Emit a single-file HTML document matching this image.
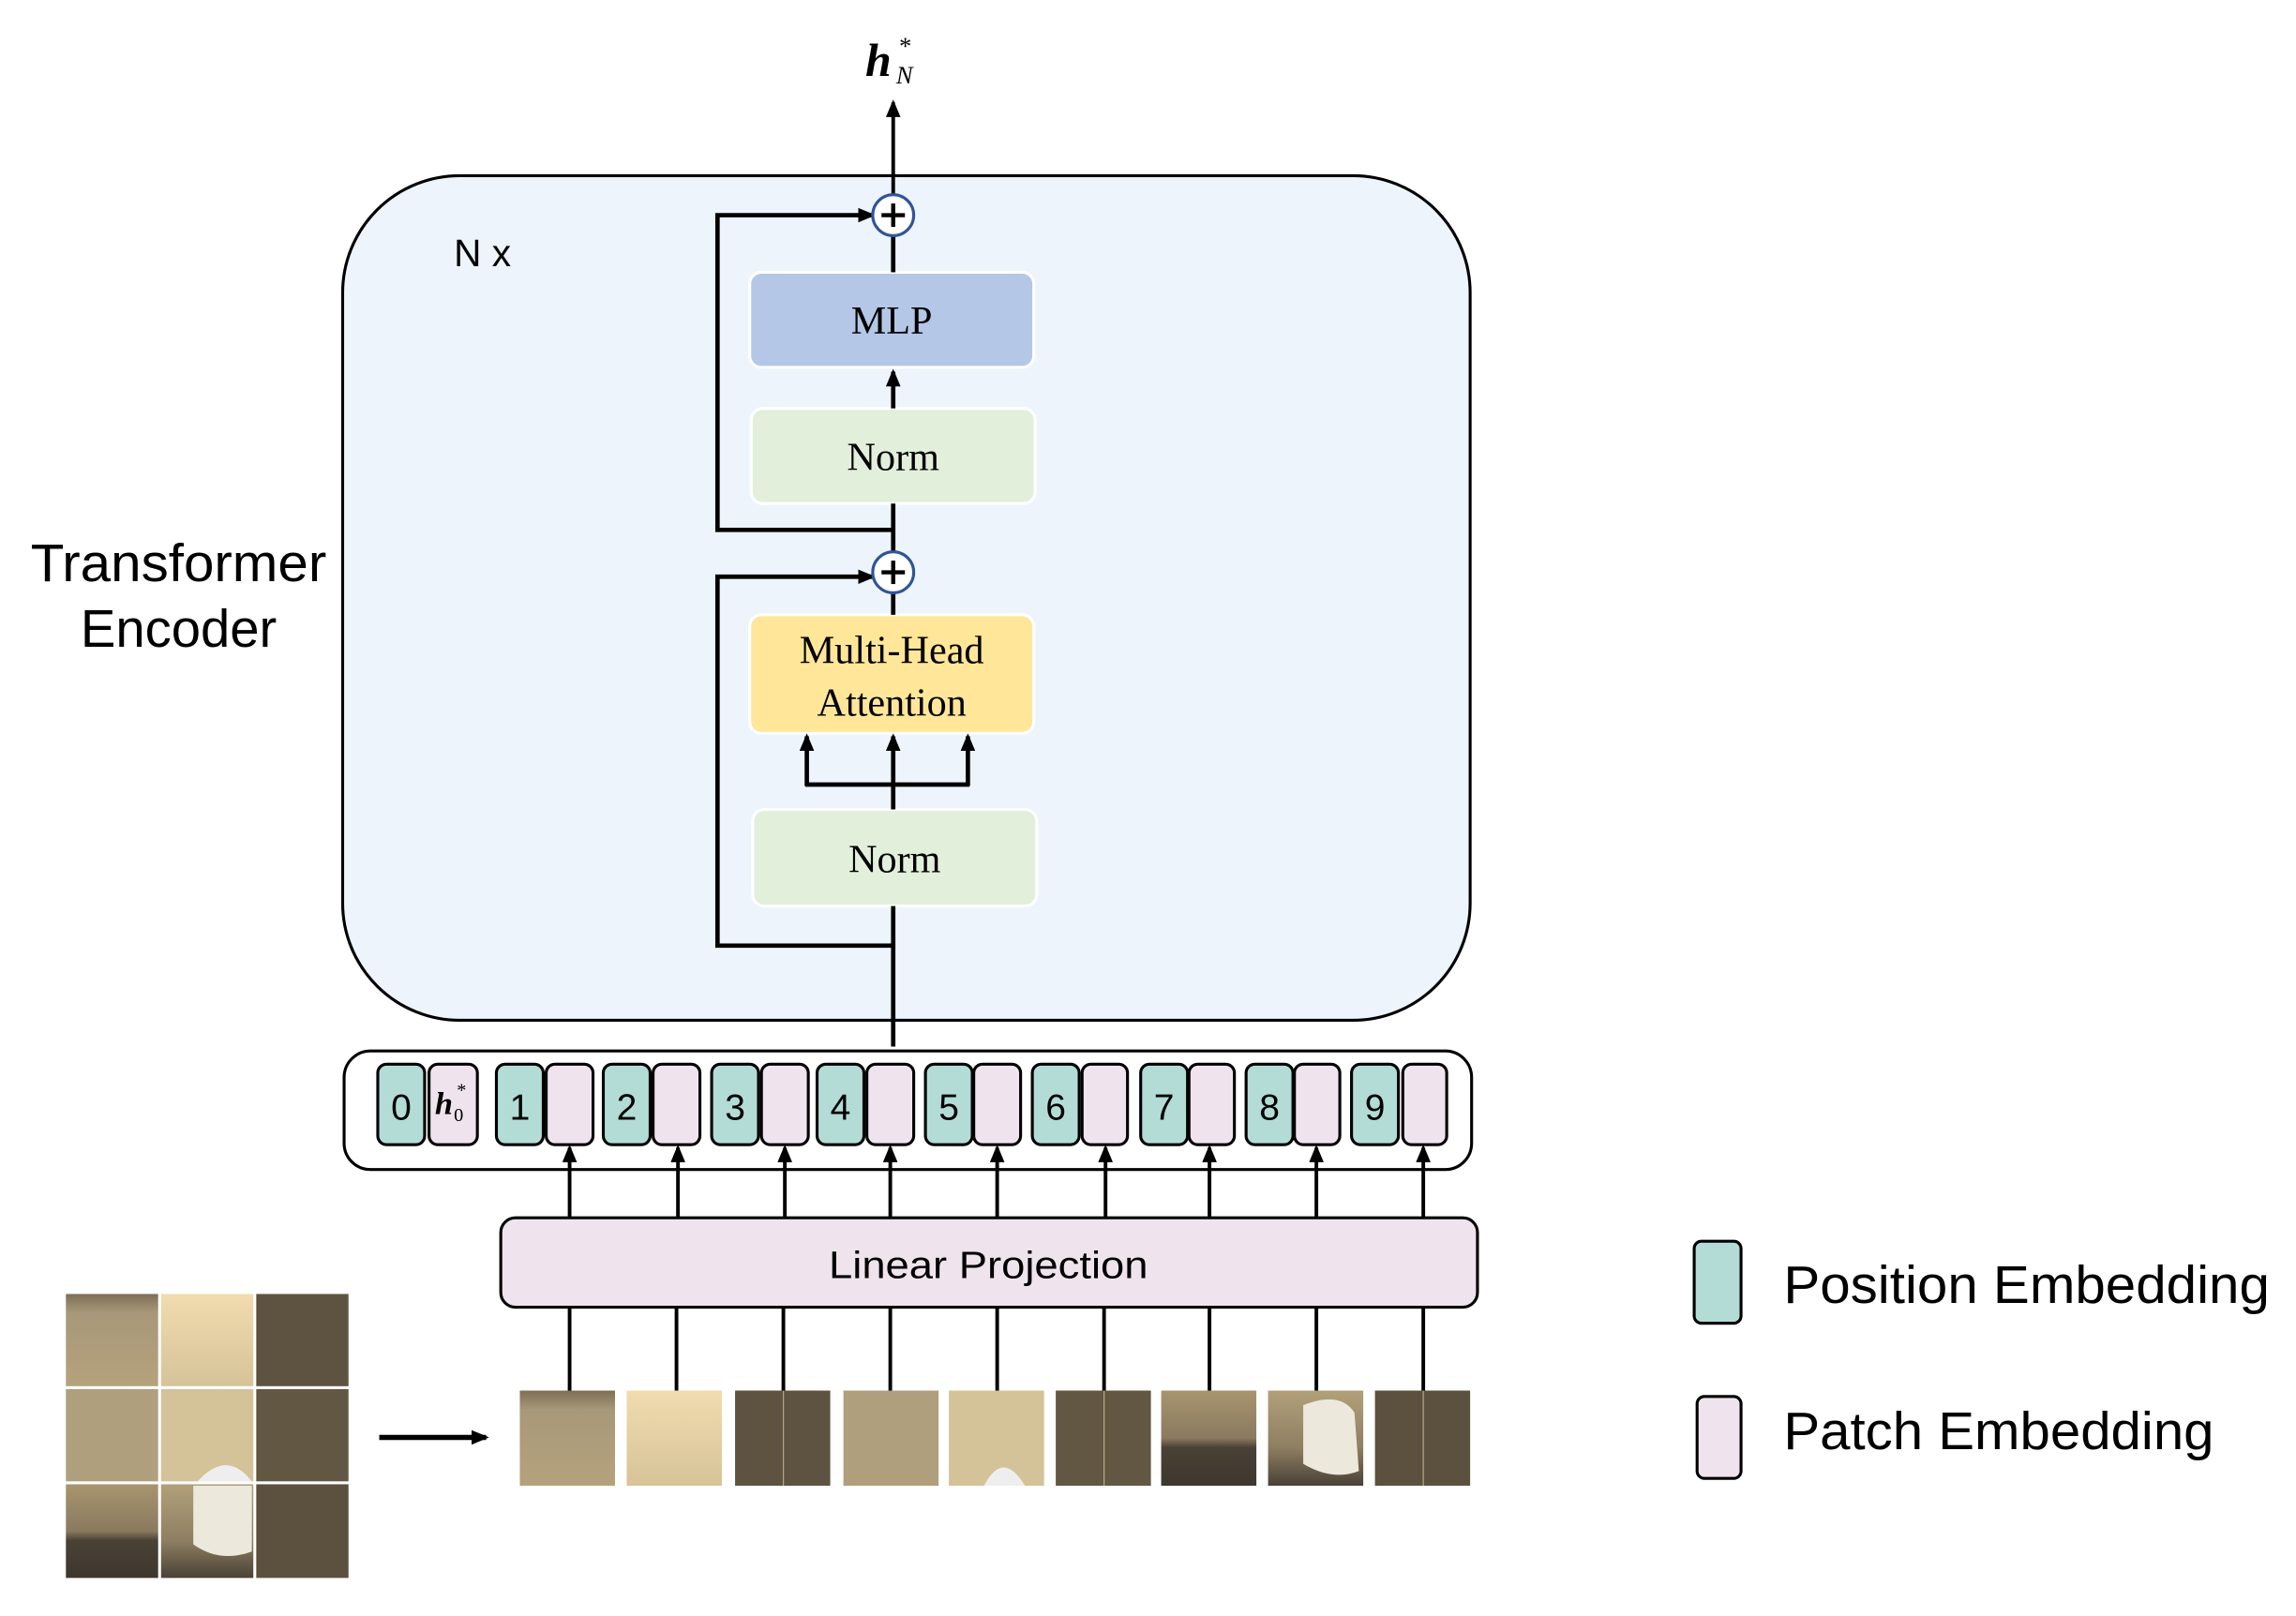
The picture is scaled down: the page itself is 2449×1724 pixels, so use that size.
<!DOCTYPE html>
<html><head><meta charset="utf-8"><style>
html,body{margin:0;padding:0;background:#fff;}
svg{display:block;}
text{font-family:"Liberation Sans",sans-serif;}
.serif{font-family:"Liberation Serif",serif;}
</style></head><body>
<svg width="2449" height="1724" viewBox="0 0 1568 1104" preserveAspectRatio="none" xmlns="http://www.w3.org/2000/svg">
<defs>
<marker id="ah" markerWidth="12" markerHeight="10" refX="10" refY="5" orient="auto" markerUnits="userSpaceOnUse"><path d="M0,0 L12,5 L0,10 z" fill="#000"/></marker>
</defs>
<!-- Encoder box -->
<rect x="234" y="120" width="770" height="577" rx="80" fill="#edf4fb" stroke="#000" stroke-width="2"/>
<text x="310" y="182" font-size="26">N x</text>
<text x="122" y="397" font-size="36" text-anchor="middle" textLength="202" lengthAdjust="spacingAndGlyphs">Transformer</text>
<text x="122" y="442" font-size="36" text-anchor="middle">Encoder</text>

<!-- output -->
<line x1="610" y1="133" x2="610" y2="70" stroke="#000" stroke-width="2.5" marker-end="url(#ah)"/>
<text x="591" y="52" font-size="32" font-weight="bold" font-style="italic" class="serif">h</text>
<text x="612" y="57" font-size="17" font-style="italic" class="serif">N</text>
<text x="614" y="37" font-size="17" class="serif">*</text>

<!-- boxes -->
<rect x="512" y="186" width="194" height="65" rx="8" fill="#b4c7e7" stroke="#fff" stroke-width="2"/>
<text x="609" y="228" font-size="27" text-anchor="middle" class="serif">MLP</text>
<rect x="513" y="279" width="194" height="65" rx="8" fill="#e2efda" stroke="#fff" stroke-width="2"/>
<text x="610" y="321" font-size="27" text-anchor="middle" class="serif">Norm</text>
<rect x="512" y="420" width="194" height="81" rx="8" fill="#ffe699" stroke="#fff" stroke-width="2"/>
<text x="609" y="453" font-size="27" text-anchor="middle" class="serif">Multi-Head</text>
<text x="609" y="489" font-size="27" text-anchor="middle" class="serif">Attention</text>
<rect x="514" y="553" width="194" height="66" rx="8" fill="#e2efda" stroke="#fff" stroke-width="2"/>
<text x="611" y="596" font-size="27" text-anchor="middle" class="serif">Norm</text>

<!-- connectors -->
<g stroke="#000" stroke-width="3" fill="none">
<line x1="610" y1="186" x2="610" y2="161"/>
<line x1="610" y1="279" x2="610" y2="254" marker-end="url(#ah)"/>
<line x1="610" y1="344" x2="610" y2="377"/>
<line x1="610" y1="420" x2="610" y2="405"/>
<polyline points="610,362 490,362 490,147 596,147" marker-end="url(#ah)"/>
<polyline points="610,646 490,646 490,394 596,394" marker-end="url(#ah)"/>
<line x1="610" y1="715" x2="610" y2="619"/>
<line x1="610" y1="553" x2="610" y2="503" marker-end="url(#ah)"/>
<polyline points="550,536 662,536"/>
<line x1="551" y1="537" x2="551" y2="503" marker-end="url(#ah)"/>
<line x1="661" y1="537" x2="661" y2="503" marker-end="url(#ah)"/>
</g>
<g stroke="#2f5597" stroke-width="2" fill="#fff">
<circle cx="610" cy="147" r="14"/>
<circle cx="610" cy="391" r="14"/>
</g>
<g stroke="#000" stroke-width="2.8">
<line x1="602" y1="147" x2="618" y2="147"/><line x1="610" y1="139" x2="610" y2="155"/>
<line x1="602" y1="391" x2="618" y2="391"/><line x1="610" y1="383" x2="610" y2="399"/>
</g>

<!-- token box -->
<rect x="235" y="718" width="770" height="81" rx="18" fill="#fff" stroke="#000" stroke-width="2"/>
<g stroke="#000" stroke-width="2">
<rect x="258" y="727" width="32" height="55" rx="6" fill="#b3dcd6"/>
<rect x="293" y="727" width="33" height="55" rx="6" fill="#efe4ee"/>
</g>
<text x="274" y="765" font-size="25" text-anchor="middle">0</text>
<text x="297" y="761" font-size="22" font-weight="bold" font-style="italic" class="serif">h</text>
<text x="310" y="766" font-size="13" class="serif">0</text>
<text x="312" y="749" font-size="13" class="serif">*</text>
<g stroke="#000" stroke-width="2">
<rect x="339" y="727" width="32" height="55" rx="6" fill="#b3dcd6"/><rect x="373" y="727" width="32" height="55" rx="6" fill="#efe4ee"/>
<rect x="412" y="727" width="32" height="55" rx="6" fill="#b3dcd6"/><rect x="446" y="727" width="32" height="55" rx="6" fill="#efe4ee"/>
<rect x="486" y="727" width="32" height="55" rx="6" fill="#b3dcd6"/><rect x="520" y="727" width="32" height="55" rx="6" fill="#efe4ee"/>
<rect x="558" y="727" width="32" height="55" rx="6" fill="#b3dcd6"/><rect x="592" y="727" width="32" height="55" rx="6" fill="#efe4ee"/>
<rect x="632" y="727" width="32" height="55" rx="6" fill="#b3dcd6"/><rect x="665" y="727" width="32" height="55" rx="6" fill="#efe4ee"/>
<rect x="705" y="727" width="32" height="55" rx="6" fill="#b3dcd6"/><rect x="739" y="727" width="31" height="55" rx="6" fill="#efe4ee"/>
<rect x="779" y="727" width="32" height="55" rx="6" fill="#b3dcd6"/><rect x="812" y="727" width="31" height="55" rx="6" fill="#efe4ee"/>
<rect x="851" y="727" width="32" height="55" rx="6" fill="#b3dcd6"/><rect x="884" y="727" width="31" height="55" rx="6" fill="#efe4ee"/>
<rect x="923" y="727" width="32" height="55" rx="6" fill="#b3dcd6"/><rect x="958" y="727" width="30" height="55" rx="6" fill="#efe4ee"/>
</g>
<g font-size="25" text-anchor="middle">
<text x="355" y="765">1</text><text x="428" y="765">2</text><text x="502" y="765">3</text>
<text x="574" y="765">4</text><text x="648" y="765">5</text><text x="721" y="765">6</text>
<text x="795" y="765">7</text><text x="867" y="765">8</text><text x="939" y="765">9</text>
</g>

<!-- linear projection -->
<rect x="342" y="832" width="667" height="61" rx="10" fill="#efe4ee" stroke="#000" stroke-width="2"/>
<text x="675" y="873" font-size="26" text-anchor="middle" textLength="218" lengthAdjust="spacingAndGlyphs">Linear Projection</text>

<g stroke="#000" stroke-width="2.5">
<line x1="389" y1="832" x2="389" y2="784" marker-end="url(#ah)"/><line x1="389" y1="950" x2="389" y2="893"/>
<line x1="463" y1="832" x2="463" y2="784" marker-end="url(#ah)"/><line x1="462" y1="950" x2="462" y2="893"/>
<line x1="536" y1="832" x2="536" y2="784" marker-end="url(#ah)"/><line x1="535" y1="950" x2="535" y2="893"/>
<line x1="608" y1="832" x2="608" y2="784" marker-end="url(#ah)"/><line x1="608" y1="950" x2="608" y2="893"/>
<line x1="681" y1="832" x2="681" y2="784" marker-end="url(#ah)"/><line x1="681" y1="950" x2="681" y2="893"/>
<line x1="755" y1="832" x2="755" y2="784" marker-end="url(#ah)"/><line x1="754" y1="950" x2="754" y2="893"/>
<line x1="826" y1="832" x2="826" y2="784" marker-end="url(#ah)"/><line x1="826" y1="950" x2="826" y2="893"/>
<line x1="899" y1="832" x2="899" y2="784" marker-end="url(#ah)"/><line x1="899" y1="950" x2="899" y2="893"/>
<line x1="972" y1="832" x2="972" y2="784" marker-end="url(#ah)"/><line x1="972" y1="950" x2="972" y2="893"/>
</g>

<!-- patches row -->
<defs>
<linearGradient id="g1" x1="0" y1="0" x2="0" y2="1"><stop offset="0" stop-color="#7d6f55"/><stop offset="0.2" stop-color="#a8987a"/><stop offset="1" stop-color="#b5a27c"/></linearGradient>
<linearGradient id="g2" x1="0" y1="0" x2="0" y2="1"><stop offset="0" stop-color="#f0dcae"/><stop offset="1" stop-color="#d6c398"/></linearGradient>
<linearGradient id="g7" x1="0" y1="0" x2="0" y2="1"><stop offset="0" stop-color="#a8956f"/><stop offset="0.5" stop-color="#8a7a5e"/><stop offset="0.6" stop-color="#4a4136"/><stop offset="1" stop-color="#3e372e"/></linearGradient>
<linearGradient id="g8" x1="0" y1="0" x2="0" y2="1"><stop offset="0" stop-color="#b2a07a"/><stop offset="0.6" stop-color="#8e7f62"/><stop offset="1" stop-color="#4a4136"/></linearGradient>
</defs>
<rect x="355" y="950" width="65" height="65" fill="url(#g1)"/>
<rect x="428" y="950" width="65" height="65" fill="url(#g2)"/>
<rect x="502" y="950" width="65" height="65" fill="#5e5340"/>
<rect x="576" y="950" width="65" height="65" fill="#b09f7c"/>
<rect x="648" y="950" width="65" height="65" fill="#d4c298"/>
<path d="M672,1015 Q685,990 700,1015 z" fill="#eee"/>
<rect x="721" y="950" width="65" height="65" fill="#625742"/>
<rect x="793" y="950" width="65" height="65" fill="url(#g7)"/>
<rect x="866" y="950" width="65" height="65" fill="url(#g8)"/>
<path d="M890,960 Q915,950 925,965 L928,1005 Q910,1012 890,1000 z" fill="#ece8dc"/>
<rect x="939" y="950" width="65" height="65" fill="#5c513f"/>
<g stroke="#d9c9a3" stroke-width="0.8" opacity="0.7">
<line x1="535" y1="950" x2="535" y2="1015"/><line x1="754" y1="950" x2="754" y2="1015"/><line x1="972" y1="950" x2="972" y2="1015"/>
</g>

<!-- grid -->
<rect x="45" y="884" width="193" height="194" fill="#fff"/>
<rect x="45" y="884" width="63" height="63" fill="url(#g1)"/>
<rect x="110" y="884" width="63" height="63" fill="url(#g2)"/>
<rect x="175" y="884" width="63" height="63" fill="#5e5340"/>
<rect x="45" y="949" width="63" height="63" fill="#b09f7c"/>
<rect x="110" y="949" width="63" height="63" fill="#d4c298"/>
<path d="M135,1012 Q155,990 172,1012 z" fill="#eee"/>
<rect x="175" y="949" width="63" height="63" fill="#625742"/>
<rect x="45" y="1014" width="63" height="64" fill="url(#g7)"/>
<rect x="110" y="1014" width="63" height="64" fill="url(#g8)"/>
<path d="M132,1015 L172,1015 L172,1060 Q150,1068 132,1055 z" fill="#ece8dc"/>
<rect x="175" y="1014" width="63" height="64" fill="#5c513f"/>
<line x1="259" y1="982" x2="332" y2="982" stroke="#000" stroke-width="3.5" marker-end="url(#ah)"/>

<!-- legend -->
<rect x="1157" y="848" width="32" height="56" rx="5" fill="#b3dcd6" stroke="#000" stroke-width="2"/>
<rect x="1159" y="954" width="30" height="56" rx="5" fill="#efe4ee" stroke="#000" stroke-width="2"/>
<text x="1218" y="890" font-size="36" textLength="332" lengthAdjust="spacingAndGlyphs">Position Embedding</text>
<text x="1218" y="990" font-size="36" textLength="294" lengthAdjust="spacingAndGlyphs">Patch Embedding</text>
</svg>
</body></html>
